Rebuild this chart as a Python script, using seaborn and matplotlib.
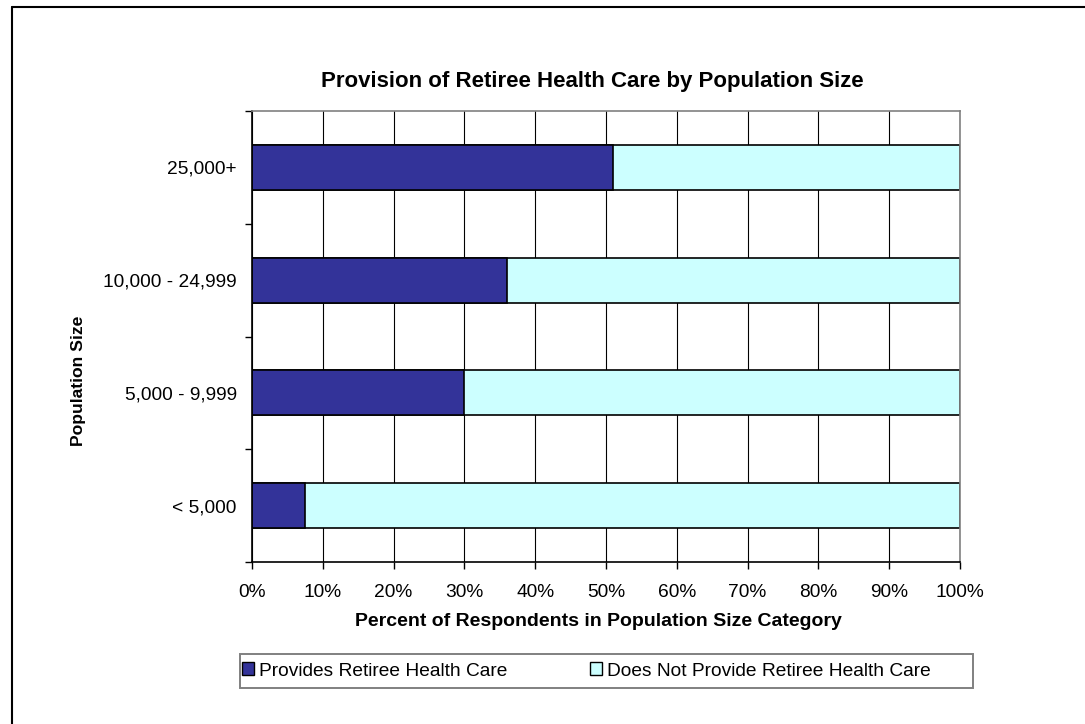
import matplotlib
matplotlib.use("Agg")
import matplotlib.pyplot as plt
import matplotlib.patches as mpatches
from matplotlib.lines import Line2D
import seaborn as sns
import pandas as pd
import numpy as np

# ---- data ----
categories = ["25,000+", "10,000 - 24,999", "5,000 - 9,999", "< 5,000"]
provides = [51, 36, 30, 7.5]
not_provides = [49, 64, 70, 92.5]
x_ticks = [0, 10, 20, 30, 40, 50, 60, 70, 80, 90, 100]
x_tick_labels = ["0%", "10%", "20%", "30%", "40%", "50%", "60%", "70%", "80%", "90%", "100%"]
series_names = ["Provides Retiree Health Care", "Does Not Provide Retiree Health Care"]
title = "Provision of Retiree Health Care by Population Size"
x_label = "Percent of Respondents in Population Size Category"
y_label = "Population Size"

dark = "#333399"
light = "#CCFFFF"

df = pd.DataFrame({
    "category": categories,
    "provides": provides,
    "total": [p + n for p, n in zip(provides, not_provides)],
})

sns.set_style("white")
plt.rcParams["font.family"] = ["Liberation Sans", "DejaVu Sans"]
for k in ["text.color", "axes.labelcolor", "xtick.color", "ytick.color"]:
    plt.rcParams[k] = "black"

W, H = 1085, 724
fig = plt.figure(figsize=(W / 100, H / 100), dpi=100)
ax = fig.add_axes([252 / W, 1 - 562 / H, 708 / W, 451 / H])

ax.set_axisbelow(True)
ax.xaxis.grid(True, color="#000000", linewidth=0.8)
ax.yaxis.grid(False)

sns.barplot(data=df, y="category", x="total", order=categories, color=light,
            width=0.4, edgecolor="black", linewidth=1.2, ax=ax, saturation=1, orient="h")
sns.barplot(data=df, y="category", x="provides", order=categories, color=dark,
            width=0.4, edgecolor="black", linewidth=1.2, ax=ax, saturation=1, orient="h")

tick_fs = 13.8
ax.set_xlim(0, 100)
ax.set_ylim(len(categories) - 0.5, -0.5)
ax.set_xticks(x_ticks)
ax.set_xticklabels(x_tick_labels, fontsize=tick_fs)
ax.set_yticks(range(len(categories)))
ax.set_yticklabels(categories, fontsize=tick_fs)
ax.set_yticks(np.arange(-0.5, len(categories), 1.0), minor=True)
ax.tick_params(axis="y", which="major", length=0, pad=11)
ax.tick_params(axis="y", which="minor", length=5, width=1, color="black", direction="out", left=True)
ax.tick_params(axis="x", which="major", length=5, width=1, color="black", direction="out", bottom=True, pad=11)
ax.set_xlabel("")
ax.set_ylabel("")

for s in ["left", "bottom"]:
    ax.spines[s].set_color("black")
    ax.spines[s].set_linewidth(1.2)
for s in ["top", "right"]:
    ax.spines[s].set_color("#808080")
    ax.spines[s].set_linewidth(1.2)

fig.text(592 / W, 1 - 82 / H, title, ha="center", va="center", fontsize=16, fontweight="bold")
fig.text(598 / W, 1 - 621 / H, x_label, ha="center", va="center", fontsize=14, fontweight="bold")
fig.text(78 / W, 1 - 381 / H, y_label, ha="center", va="center", fontsize=12.6, fontweight="bold", rotation=90)

# legend box
fig.add_artist(mpatches.Rectangle((240 / W, 1 - 688 / H), 733 / W, 34 / H, transform=fig.transFigure,
                                  fill=False, edgecolor="#808080", linewidth=1.4))
handles = [mpatches.Patch(facecolor=dark, edgecolor="black", linewidth=1),
           mpatches.Patch(facecolor=light, edgecolor="black", linewidth=1)]
leg = fig.legend(handles, series_names, loc="center left",
                 bbox_to_anchor=(242 / W, 1 - 671 / H),
                 ncol=2, frameon=False, fontsize=tick_fs,
                 handlelength=0.63, handleheight=0.63,
                 handletextpad=0.27, columnspacing=4.3, borderaxespad=0, borderpad=0)

# outer chart frame
fig.add_artist(Line2D([12 / W, 12 / W], [1 - 7 / H, 0], color="black", linewidth=1.5, transform=fig.transFigure))
fig.add_artist(Line2D([12 / W, 1], [1 - 7 / H, 1 - 7 / H], color="black", linewidth=1.5, transform=fig.transFigure))

fig.savefig("out.png", dpi=100, facecolor="white")
